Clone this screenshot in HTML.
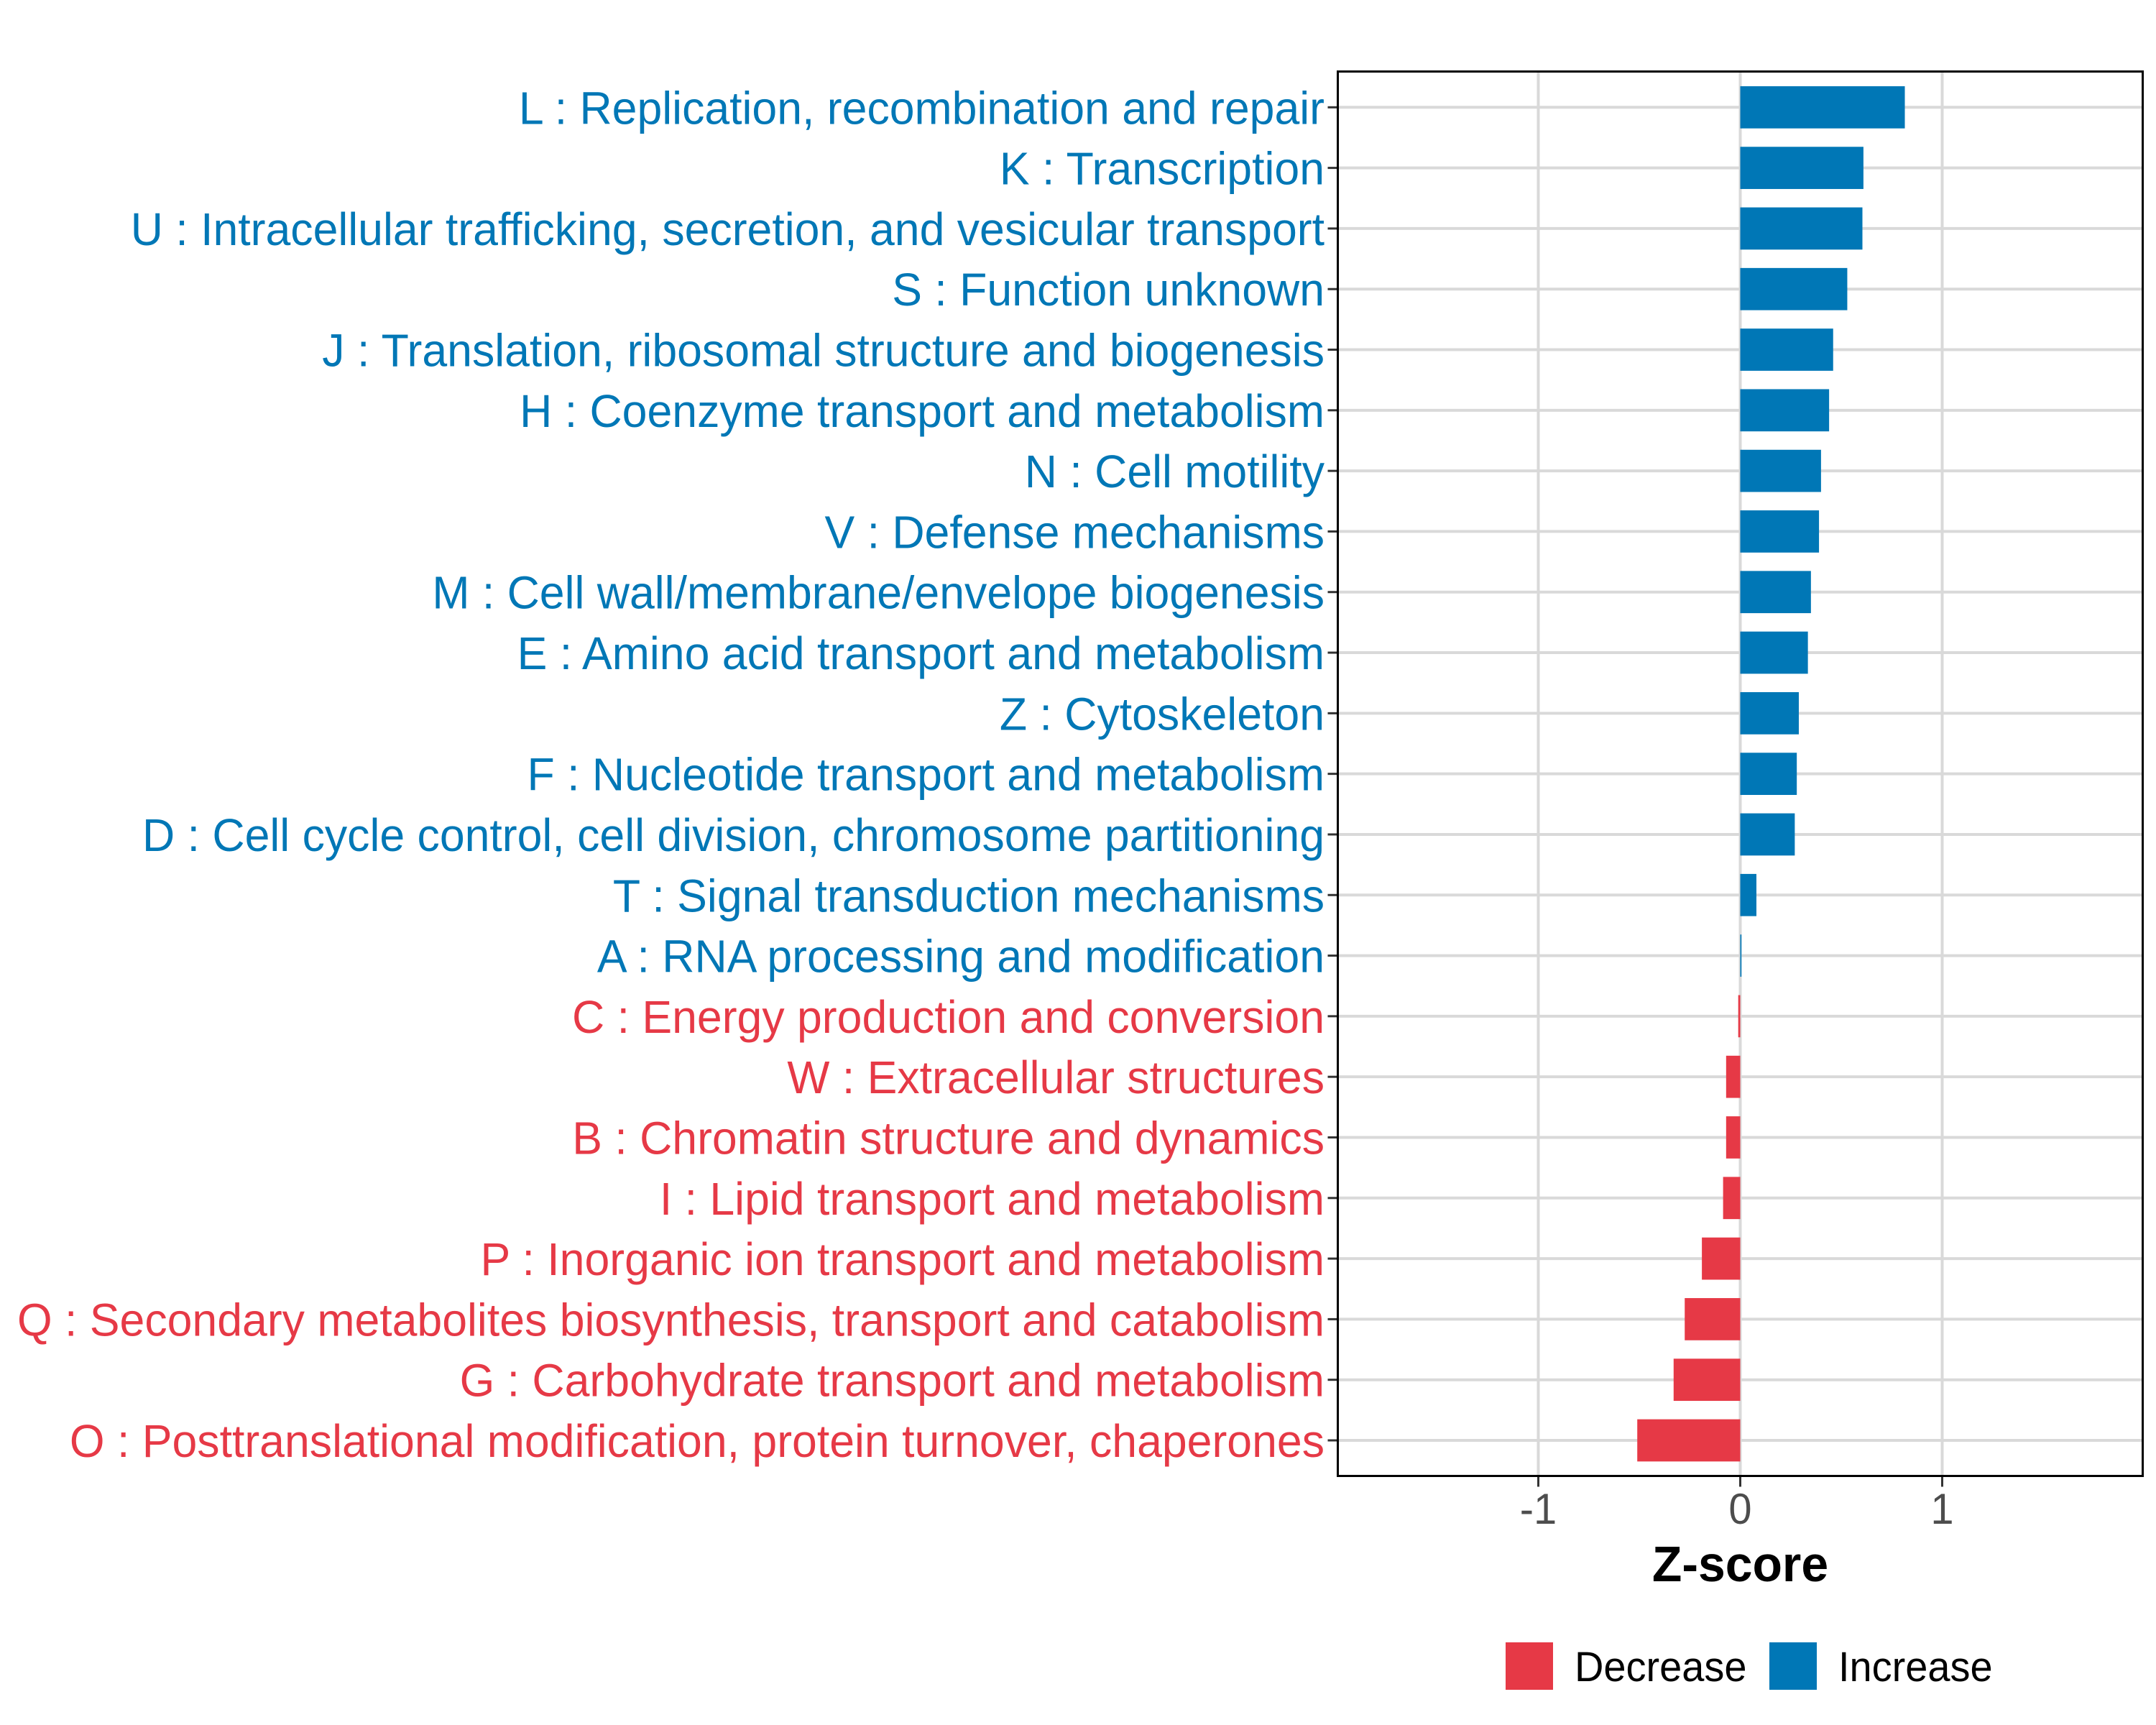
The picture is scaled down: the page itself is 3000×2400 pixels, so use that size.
<!DOCTYPE html>
<html><head><meta charset="utf-8"><style>
html,body{margin:0;padding:0;background:#fff;}
svg{display:block;font-family:"Liberation Sans",Arial,sans-serif;}
</style></head><body>
<svg id="chart" width="3000" height="2400" viewBox="0 0 3000 2400" xmlns="http://www.w3.org/2000/svg">
<rect x="0" y="0" width="3000" height="2400" fill="#fff"/>
<g id="grid"></g>
<g id="bars"></g>
<g id="ylabels"></g>
<g id="xaxis"></g>
<rect x="1861.5" y="99.5" width="1120" height="1954" fill="none" stroke="#000" stroke-width="3"/>
<text transform="translate(2421.5,2200) scale(0.97,1)" text-anchor="middle" font-size="70" font-weight="bold" fill="#000">Z-score</text>
<g>
<rect x="2095" y="2285" width="66" height="66" fill="#E63946"/>
<text transform="translate(2191,2339) scale(0.965,1)" font-size="58" fill="#000">Decrease</text>
<rect x="2462" y="2285" width="66" height="66" fill="#0077B6"/>
<text transform="translate(2558,2339) scale(0.965,1)" font-size="58" fill="#000">Increase</text>
</g>
</svg>
<script>
const categories = [
"L : Replication, recombination and repair",
"K : Transcription",
"U : Intracellular trafficking, secretion, and vesicular transport",
"S : Function unknown",
"J : Translation, ribosomal structure and biogenesis",
"H : Coenzyme transport and metabolism",
"N : Cell motility",
"V : Defense mechanisms",
"M : Cell wall/membrane/envelope biogenesis",
"E : Amino acid transport and metabolism",
"Z : Cytoskeleton",
"F : Nucleotide transport and metabolism",
"D : Cell cycle control, cell division, chromosome partitioning",
"T : Signal transduction mechanisms",
"A : RNA processing and modification",
"C : Energy production and conversion",
"W : Extracellular structures",
"B : Chromatin structure and dynamics",
"I : Lipid transport and metabolism",
"P : Inorganic ion transport and metabolism",
"Q : Secondary metabolites biosynthesis, transport and catabolism",
"G : Carbohydrate transport and metabolism",
"O : Posttranslational modification, protein turnover, chaperones"
];
const zscores = [0.815, 0.61, 0.605, 0.53, 0.46, 0.44, 0.40, 0.39, 0.35, 0.335, 0.29, 0.28, 0.27, 0.08, 0.006, -0.01, -0.07, -0.07, -0.085, -0.19, -0.275, -0.33, -0.51];
const xTicks = [-1, 0, 1];
const xTickLabels = ["-1", "0", "1"];

const NS = "http://www.w3.org/2000/svg";
const plotL = 1861.5, plotR = 2981.5, plotT = 99.5, plotB = 2053.5;
const xMin = -1.993, xMax = 1.993;
function xScale(v){ return plotL + (v - xMin) / (xMax - xMin) * (plotR - plotL); }
const rowStep = (2004 - 149.3) / 22;
function yScale(i){ return 149.3 + i * rowStep; }
const barH = 58.7;
function colorOf(v){ return v >= 0 ? "#0077B6" : "#E63946"; }
function mk(tag, attrs, parent){
  const el = document.createElementNS(NS, tag);
  for (const k in attrs) el.setAttribute(k, attrs[k]);
  parent.appendChild(el);
  return el;
}
const grid = document.getElementById("grid");
const bars = document.getElementById("bars");
const ylab = document.getElementById("ylabels");
const xax = document.getElementById("xaxis");

xTicks.forEach((t, k) => {
  const x = xScale(t);
  const g = mk("line", {x1:x, x2:x, y1:plotT, y2:plotB, stroke:"#d9d9d9", "stroke-width":4}, grid);
  
  
  const tk = mk("line", {x1:x, x2:x, y1:plotB, y2:plotB+15, stroke:"#333", "stroke-width":3}, xax);
  
  
  const tl = mk("text", {transform:"translate(" + x + ",2120) scale(0.965,1)", "text-anchor":"middle", "font-size":60, fill:"#4d4d4d"}, xax);
  tl.textContent = xTickLabels[k];
  
  
});

categories.forEach((c, i) => {
  const y = yScale(i);
  const gl = mk("line", {x1:plotL, x2:plotR, y1:y, y2:y, stroke:"#d9d9d9", "stroke-width":4}, grid);
  
  
  const v = zscores[i];
  const x0 = xScale(Math.min(0, v)), x1 = xScale(Math.max(0, v));
  const r = mk("rect", {x:x0, y:y - barH/2, width:Math.max(x1 - x0, 1.5), height:barH, fill:colorOf(v)}, bars);
  
  
  const tk = mk("line", {x1:plotL-14, x2:plotL, y1:y, y2:y, stroke:"#333", "stroke-width":3}, ylab);
  
  
  const t = mk("text", {transform:"translate(1843," + (y + 23) + ") scale(0.978,1)", "text-anchor":"end", "font-size":64, fill:colorOf(v)}, ylab);
  t.textContent = c;
  
  
});
</script>
</body></html>
